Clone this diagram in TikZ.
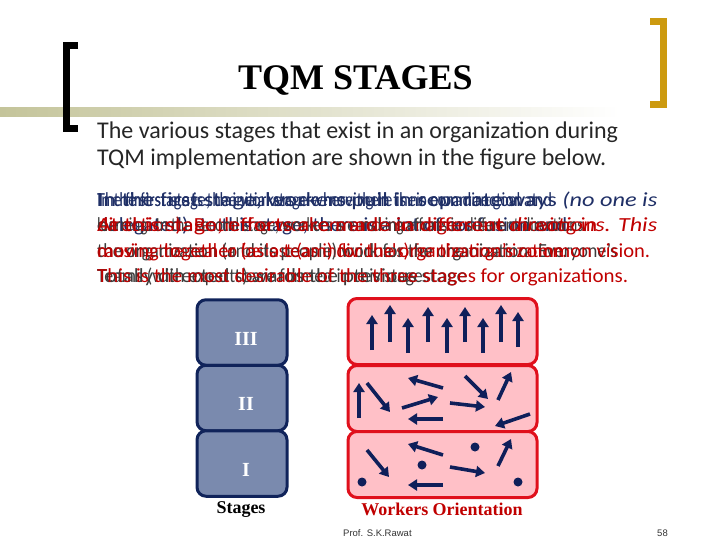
\documentclass[tikz,border=0pt]{standalone}
\usepackage{fontspec}
\usepackage{graphicx}
\setmainfont{Carlito}
\newfontfamily\timesfont{Liberation Serif}
\newfontfamily\arialfont{Liberation Sans}
\usetikzlibrary{arrows.meta}

\definecolor{bodytext}{HTML}{262626}
\definecolor{navytext}{HTML}{1F2F66}
\definecolor{redtext}{HTML}{C00000}
\definecolor{graytext}{HTML}{3C3C3C}
\definecolor{stageedge}{HTML}{10235A}
\definecolor{stagefill}{HTML}{7A8AAE}
\definecolor{workedge}{HTML}{E0101C}
\definecolor{workfill}{HTML}{FFC0C7}
\definecolor{arrowblue}{HTML}{0F1F5A}
\definecolor{ruleolive}{HTML}{C4C49A}
\definecolor{bracketgold}{HTML}{CC9A10}
\definecolor{footgray}{HTML}{333333}

% one layer of the overlapping paragraph
\newcommand{\overlayline}[5]{%
  \node[anchor=base west, inner sep=0pt, text=#2,
    font=\fontsize{20}{24}\selectfont] (#1) at (97,#3)
    {\resizebox{#4pt}{\height}{#5}};}

\begin{document}
\begin{tikzpicture}[x=1pt, y=-1pt,
  stagebox/.style={draw=stageedge, fill=stagefill, line width=3pt,
    rounded corners=9pt, minimum width=90pt, minimum height=65.5pt, inner sep=0pt},
  workbox/.style={draw=workedge, fill=workfill, line width=3pt,
    rounded corners=9pt, minimum width=189pt, minimum height=66pt, inner sep=0pt},
  numeral/.style={text=white, font=\timesfont\bfseries\fontsize{20}{20}\selectfont},
  worker/.style={draw=arrowblue, line width=3.6pt, -{Triangle[width=11pt,length=9pt]}},
  idle/.style={fill=arrowblue},
  caption/.style={font=\timesfont\bfseries\fontsize{18}{18}\selectfont, anchor=base}]
  \useasboundingbox (0,0) rectangle (720,540);

  % title bar
  \shade[left color=ruleolive, right color=white] (0,108) rectangle (620,117);
  \draw[line width=7pt, miter limit=4] (78,45.5) -- (66.5,45.5) -- (66.5,128.5) -- (78,128.5);
  \draw[bracketgold, line width=7pt] (650,21.5) -- (663.5,21.5) -- (663.5,104.5) -- (650,104.5);
  \node[anchor=base west, inner sep=0pt, font=\timesfont\bfseries\fontsize{36}{36}\selectfont]
    (title) at (238,90) {TQM STAGES};

  % text
  \node[anchor=base west, inner sep=0pt, text=bodytext, font=\fontsize{24}{28}\selectfont]
    (intro1) at (97,139) {The various stages that exist in an organization during};
  \node[anchor=base west, inner sep=0pt, text=bodytext, font=\fontsize{24}{28}\selectfont]
    (intro2) at (97,166) {TQM implementation are shown in the figure below.};

  \overlayline{l1a}{navytext}{207}{455}{In the first stage, the workers are moving in their own direction and}
  \overlayline{l1b}{navytext}{207}{440}{The first stage is the initial stage where there is no common goal at}
  \overlayline{l1c}{navytext}{207}{560}{In the first stage, workers pull in separate ways \textit{(no one is}}
  \overlayline{l2a}{navytext}{232}{470}{delegated). In this stage, there is a lot of confusion and}
  \overlayline{l2b}{redtext}{232}{500}{direction). Both the workers and managers are moving in}
  \overlayline{l2c}{graytext}{232}{490}{learning. In the second stage, workers are making efforts in different directions.}
  \overlayline{l2d}{redtext}{232}{560}{At this stage, efforts are made in different \textit{directions. This}}
  \overlayline{l3a}{redtext}{257}{470}{causing the zeal to be lost (as individuals) for the organization.}
  \overlayline{l3b}{graytext}{257}{520}{the organization (and its people) work for the organization. Everyone's}
  \overlayline{l3c}{redtext}{257}{553}{moving together (as a team) for the organization's common vision.}
  \overlayline{l4a}{graytext}{282}{330}{Teams (with experts) are formed in this stage.}
  \overlayline{l4b}{graytext}{282}{370}{Totally directed towards the previous stage}
  \overlayline{l4c}{redtext}{282}{531}{This is the most desirable of the three stages for organizations.}

  % stages
  \node[stagebox] (stage3) at (242,332.5) {};
  \node[stagebox] (stage2) at (242,398) {};
  \node[stagebox] (stage1) at (242,463.5) {};
  \node[numeral] (num3) at ([shift={(4,6)}]stage3.center) {III};
  \node[numeral] (num2) at ([shift={(4,6)}]stage2.center) {II};
  \node[numeral] (num1) at ([shift={(4,6)}]stage1.center) {I};
  \node[caption] (stagecap) at (241,513) {Stages};

  % workers orientation
  \node[workbox] (work3) at (442.5,331.5) {};
  \node[workbox] (work2) at (442.5,398.5) {};
  \node[workbox] (work1) at (442.5,464.5) {};
  \foreach \x/\tip/\tail in {372/315/350, 390/305/342, 408/318/353, 428/307/342,
      447/318/353, 465/307/342, 483/318/353, 501/305/342, 518/312/347}
    \draw[worker] (\x,\tail) -- (\x,\tip);
  \foreach \a/\b/\c/\d in {359/418/359/383, 367/383/390/412, 443/388/408/378,
      402/408/438/397, 443/419/408/419, 465/376/488/399, 450/403/485/407,
      498/400/511/372, 530/414/495/426}
    \draw[worker] (\a,\b) -- (\c,\d);
  \foreach \a/\b/\c/\d in {367/450/389/477, 443/455/408/444, 450/467/485/473,
      443/485/408/485, 498/466/511/439}
    \draw[worker] (\a,\b) -- (\c,\d);
  \foreach \x/\y in {362/482, 422/465, 475/447, 518/482}
    \fill[idle] (\x,\y) circle (4.5);
  \node[caption, text=redtext] (workcap) at (442,515) {Workers Orientation};

  % footer
  \node[anchor=base west, inner sep=0pt, text=footgray, font=\arialfont\fontsize{9.5}{10}\selectfont]
    (author) at (343,536) {Prof. S.K.Rawat};
  \node[anchor=base east, inner sep=0pt, text=footgray, font=\arialfont\fontsize{9.5}{10}\selectfont]
    (page) at (668,536) {58};
\end{tikzpicture}
\end{document}
